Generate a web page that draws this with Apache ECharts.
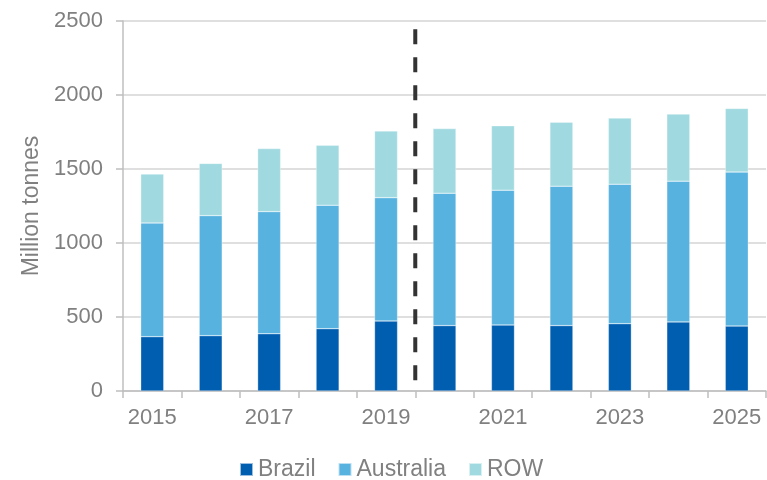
<!DOCTYPE html>
<html>
<head>
<meta charset="utf-8">
<script src="https://cdn.jsdelivr.net/npm/echarts@6/dist/echarts.min.js"></script>
<style>html,body{margin:0;padding:0;background:#fff;}#c{width:767px;height:480px;}</style>
</head>
<body>
<div id="c"></div>
<script>
const years = ['2015','2016','2017','2018','2019','2020','2021','2022','2023','2024','2025'];
const brazil = [367, 374, 387, 421, 473, 442, 446, 442, 455, 467, 439];
const australiaTop = [1135, 1185, 1212, 1255, 1306, 1336, 1357, 1384, 1397, 1418, 1479];
const totalTop = [1466, 1538, 1638, 1660, 1757, 1773, 1792, 1816, 1844, 1871, 1909];
const forecastStart = '2020';
const dividerTop = 2444;

const australia = australiaTop.map((v, i) => v - brazil[i]);
const row = totalTop.map((v, i) => v - australiaTop[i]);
const dividerX = years.indexOf(forecastStart) - 0.5;

const font = 'Liberation Sans, Arial, sans-serif';
const gray = '#808080';
const chart = echarts.init(document.getElementById('c'));
const barStyle = (c) => ({ color: c, borderColor: 'rgba(255,255,255,0.6)', borderWidth: 0.5 });
chart.setOption({
  animation: false,
  grid: { left: 123, right: 1, top: 21, bottom: 89, containLabel: false },
  legend: {
    data: ['Brazil', 'Australia', 'ROW'],
    bottom: -6, left: 234,
    itemWidth: 13, itemHeight: 13, itemGap: 22,
    icon: 'rect',
    textStyle: { fontFamily: font, fontSize: 23, color: gray }
  },
  xAxis: [{
    type: 'category', data: years,
    axisLine: { lineStyle: { color: '#bfbfbf', width: 1.5 } },
    axisTick: { show: true, interval: 0, length: 7, lineStyle: { color: '#bfbfbf', width: 1.5 } },
    axisLabel: { interval: 1, fontFamily: font, fontSize: 22, color: gray, margin: 16 },
    splitLine: { show: false }
  }, {
    type: 'value', min: -0.5, max: years.length - 0.5, show: false
  }],
  yAxis: {
    type: 'value', min: 0, max: 2500, interval: 500,
    name: 'Million tonnes', nameLocation: 'middle', nameGap: 80, nameRotate: 90,
    nameTextStyle: { fontFamily: font, fontSize: 23, color: gray },
    axisLine: { show: true, onZero: false, lineStyle: { color: '#bfbfbf', width: 1.5 } },
    axisTick: { show: true, length: 7, lineStyle: { color: '#bfbfbf', width: 1.5 } },
    axisLabel: { fontFamily: font, fontSize: 22, color: gray, margin: 20, formatter: (v) => String(v) },
    splitLine: { lineStyle: { color: '#d4d4d4', width: 1.5 } }
  },
  series: [
    { name: 'Brazil', type: 'bar', stack: 't', barWidth: 23, data: brazil, itemStyle: barStyle('#005eb0') },
    { name: 'Australia', type: 'bar', stack: 't', barWidth: 23, data: australia, itemStyle: barStyle('#57b2df') },
    { name: 'ROW', type: 'bar', stack: 't', barWidth: 23, data: row, itemStyle: barStyle('#a0dae0') },
    { name: 'divider', type: 'line', xAxisIndex: 1, symbol: 'none', silent: true,
      data: [[dividerX, dividerTop], [dividerX, 0]],
      lineStyle: { color: '#333333', width: 4, type: [15, 13] }, z: 5 }
  ]
});
</script>
</body>
</html>
